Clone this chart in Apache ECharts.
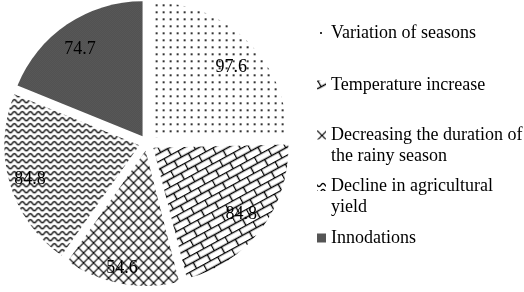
<!DOCTYPE html>
<html>
<head>
<meta charset="utf-8">
<script src="https://cdn.jsdelivr.net/npm/echarts@6/dist/echarts.min.js"></script>
<style>
	html, body { margin: 0; padding: 0; background: #fff; }
	#chart { width: 524px; height: 292px; }
</style>
</head>
<body>
<div id="chart"></div>
<script>
// data
const categories = [
	"Variation of seasons",
	"Temperature increase",
	"Decreasing the duration of the rainy season",
	"Decline in agricultural yield",
	"Innodations"
]
const values = [97.6, 84.8, 54.6, 84.8, 74.7]
const legendLines = [
	["Variation of seasons"],
	["Temperature increase"],
	["Decreasing the duration of", "the rainy season"],
	["Decline in agricultural", "yield"],
	["Innodations"]
]

const font = "Liberation Serif"

// small canvas tiles for the black & white fills
const tile = (w, h, draw) => {
	const c = document.createElement("canvas")
	c.width = w
	c.height = h
	const ctx = c.getContext("2d")
	ctx.fillStyle = "#fff"
	ctx.fillRect(0, 0, w, h)
	ctx.strokeStyle = "#000"
	ctx.fillStyle = "#000"
	draw(ctx)
	return c
}

const dots = tile(7, 7, ctx => {
	ctx.fillStyle = "#333"
	ctx.fillRect(3, 3, 2, 2)
})
const bricks = tile(16, 14, ctx => {
	ctx.lineWidth = 1.4
	ctx.beginPath()
	ctx.moveTo(0, 0.5); ctx.lineTo(16, 0.5)
	ctx.moveTo(0, 7.5); ctx.lineTo(16, 7.5)
	ctx.moveTo(0.5, 0); ctx.lineTo(0.5, 7.5)
	ctx.moveTo(8.5, 7.5); ctx.lineTo(8.5, 14)
	ctx.stroke()
})
const cross = tile(10, 10, ctx => {
	ctx.lineWidth = 1.2
	ctx.beginPath()
	ctx.moveTo(-1, -1); ctx.lineTo(11, 11)
	ctx.moveTo(11, -1); ctx.lineTo(-1, 11)
	ctx.stroke()
})
const wave = tile(8, 6.5, ctx => {
	ctx.lineWidth = 1.3
	ctx.beginPath()
	for (let x = -1; x <= 9; x += 0.5) {
		const y = 3 + 1.6 * Math.sin((x / 8) * Math.PI * 2)
		x === -1 ? ctx.moveTo(x, y) : ctx.lineTo(x, y)
	}
	ctx.stroke()
})
const checker = tile(2, 2, ctx => {
	ctx.fillStyle = "#aaa"
	ctx.fillRect(0, 0, 2, 2)
	ctx.fillStyle = "#000"
	ctx.fillRect(0, 0, 1, 1)
	ctx.fillRect(1, 1, 1, 1)
})

const fills = [
	{ image: dots, repeat: "repeat" },
	{ image: bricks, repeat: "repeat", rotation: -0.5 },
	{ image: cross, repeat: "repeat" },
	{ image: wave, repeat: "repeat" },
	{ image: checker, repeat: "repeat" }
]
// hand nudges so the numbers sit where the original put them
const labelNudge = [[-1, 12], [-3, -2], [-3, 5], [0, 2], [1, 8]]

const center = [147, 143]
const offset = 8

const pieData = categories.map((name, i) => ({
	name,
	value: values[i],
	selected: true,
	itemStyle: { color: fills[i] }
}))
const labelData = categories.map((name, i) => ({
	name,
	value: values[i],
	selected: true
}))

const legendText = {
	fontFamily: font,
	fontSize: 18,
	color: "#000",
	lineHeight: 21
}

// one legend block per entry so wrapped names keep their spacing
const legendCenters = [33.5, 85, 135, 186.5, 238]
const legends = categories.map((name, i) => {
	const lines = legendLines[i]
	const rich = lines.map(l => "{t|" + l + "}")
	// a blank first line keeps the icon level with the first text line
	const text = lines.length > 1 ? "{t| }\n" + rich.join("\n") : rich[0]
	return {
		data: [name],
		left: 317,
		top: legendCenters[i] - (lines.length > 1 ? 31.5 : 10.5),
		padding: 0,
		orient: "vertical",
		icon: "rect",
		itemWidth: 9,
		itemHeight: 9,
		selectedMode: false,
		formatter: () => text,
		textStyle: Object.assign({ rich: { t: legendText } }, legendText)
	}
})

const option = {
	animation: false,
	textStyle: { fontFamily: font },
	legend: legends,
	series: [
		{
			type: "pie",
			center,
			radius: [0, 135],
			startAngle: 90,
			selectedMode: "multiple",
			selectedOffset: offset,
			silent: true,
			label: { show: false },
			labelLine: { show: false },
			data: pieData
		},
		{
			// transparent twin that only carries the value labels
			type: "pie",
			center,
			radius: [87, 135],
			startAngle: 90,
			selectedMode: "multiple",
			selectedOffset: offset,
			silent: true,
			itemStyle: { color: "rgba(0,0,0,0)" },
			label: {
				show: true,
				position: "inside",
				formatter: p => p.value,
				fontFamily: font,
				fontSize: 18,
				color: "#000"
			},
			labelLayout: p => ({ dx: labelNudge[p.dataIndex][0], dy: labelNudge[p.dataIndex][1] }),
			labelLine: { show: false },
			data: labelData
		}
	]
}

const chart = echarts.init(document.getElementById("chart"))
chart.setOption(option)
</script>
</body>
</html>
